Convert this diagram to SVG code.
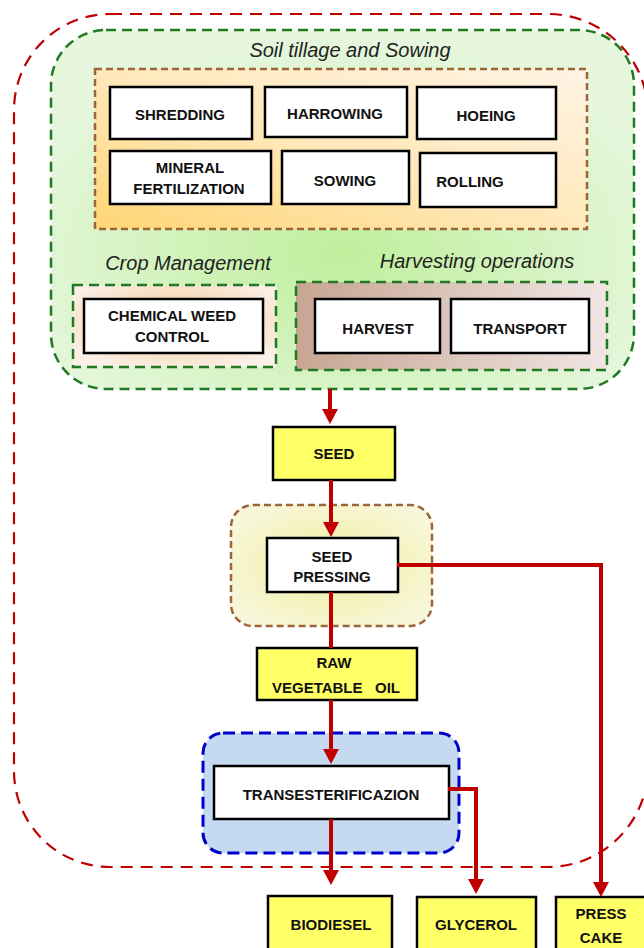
<svg xmlns="http://www.w3.org/2000/svg" width="644" height="948" viewBox="0 0 644 948">
<defs>
<style>
.box{fill:#ffffff;stroke:#000000;stroke-width:2.5}
.ybox{fill:#ffff66;stroke:#000000;stroke-width:2.5}
.t{font-family:"Liberation Sans",Arial,sans-serif;font-weight:bold;font-size:15px;fill:#111111;text-anchor:middle}
.lbl{font-family:"Liberation Sans",Arial,sans-serif;font-style:italic;font-size:20px;fill:#222222;text-anchor:middle}
.red{fill:none;stroke:#c00000;stroke-width:4}
.gdash{stroke:#217a21;stroke-width:2.5;stroke-dasharray:10 6}
.bdash{stroke:#9c6636;stroke-width:2.5;stroke-dasharray:7 4}
</style>
<radialGradient id="gGreen" cx="0.5" cy="0.62" r="0.6">
<stop offset="0" stop-color="#bfef9c"/>
<stop offset="1" stop-color="#e6f7de"/>
</radialGradient>
<linearGradient id="gOrange" x1="0" y1="1" x2="1" y2="0">
<stop offset="0" stop-color="#ffd575"/>
<stop offset="0.5" stop-color="#ffe8bb"/>
<stop offset="1" stop-color="#fff3e4"/>
</linearGradient>
<radialGradient id="gChem" cx="0.5" cy="0.45" r="0.6">
<stop offset="0" stop-color="#f3c58e"/>
<stop offset="1" stop-color="#fbefe6"/>
</radialGradient>
<linearGradient id="gHarv" x1="0" y1="0" x2="1" y2="0">
<stop offset="0" stop-color="#c7a592"/>
<stop offset="1" stop-color="#f0e6e4"/>
</linearGradient>
<radialGradient id="gPress" cx="0.5" cy="0.5" r="0.6">
<stop offset="0" stop-color="#efed9c"/>
<stop offset="1" stop-color="#f8f7dc"/>
</radialGradient>
<marker id="ah" markerUnits="userSpaceOnUse" viewBox="0 0 15 16" markerWidth="15" markerHeight="16" refX="5" refY="8" orient="auto">
<path d="M0,0 L15,8 L0,16 Z" fill="#c00000"/>
</marker>
</defs>

<g id="system-boundary">
<path d="M110,14 H548 A100,100 0 0 1 648,114 V767 A100,100 0 0 1 548,867 H110 A96,96 0 0 1 14,771 V110 A96,96 0 0 1 110,14 Z" fill="none" stroke="#c00000" stroke-width="2.2" stroke-dasharray="12 8"/>
</g>

<g id="agricultural-phase">
<rect x="51" y="30" width="583" height="359" rx="55" ry="55" fill="url(#gGreen)" class="gdash"/>
<text class="lbl" x="350" y="57">Soil tillage and Sowing</text>
<text class="lbl" x="188" y="270">Crop Management</text>
<text class="lbl" x="477" y="268">Harvesting operations</text>
</g>

<g id="soil-tillage">
<rect x="95" y="69" width="492" height="160" fill="url(#gOrange)" class="bdash"/>
</g>
<g id="shredding">
<rect class="box" x="110" y="87" width="142" height="52"/>
<text class="t" x="180" y="120">SHREDDING</text>
</g>
<g id="harrowing">
<rect class="box" x="265" y="87" width="142" height="50"/>
<text class="t" x="335" y="119">HARROWING</text>
</g>
<g id="hoeing">
<rect class="box" x="417" y="87" width="139" height="52"/>
<text class="t" x="486" y="121">HOEING</text>
</g>
<g id="mineral-fertilization">
<rect class="box" x="110" y="151" width="161" height="53"/>
<text class="t" x="190" y="173">MINERAL</text>
<text class="t" x="189" y="194">FERTILIZATION</text>
</g>
<g id="sowing">
<rect class="box" x="282" y="151" width="127" height="53"/>
<text class="t" x="345" y="186">SOWING</text>
</g>
<g id="rolling">
<rect class="box" x="420" y="153" width="136" height="54"/>
<text class="t" x="470" y="187">ROLLING</text>
</g>

<g id="crop-management">
<rect x="73" y="285" width="203" height="82" fill="url(#gChem)" class="gdash"/>
</g>
<g id="chemical-weed-control">
<rect class="box" x="84" y="299" width="179" height="54"/>
<text class="t" x="172" y="321">CHEMICAL WEED</text>
<text class="t" x="172" y="342">CONTROL</text>
</g>

<g id="harvesting-operations">
<rect x="296" y="282" width="311" height="88" fill="url(#gHarv)" class="gdash"/>
</g>
<g id="harvest">
<rect class="box" x="315" y="299" width="125" height="54"/>
<text class="t" x="378" y="334">HARVEST</text>
</g>
<g id="transport">
<rect class="box" x="451" y="299" width="138" height="54"/>
<text class="t" x="520" y="334">TRANSPORT</text>
</g>

<g id="seed">
<rect class="ybox" x="273" y="427" width="122" height="53"/>
<text class="t" x="334" y="459">SEED</text>
</g>

<g id="pressing-stage">
<rect x="231" y="505" width="201" height="121" rx="22" ry="22" fill="url(#gPress)" class="bdash"/>
</g>
<g id="seed-pressing">
<rect class="box" x="267" y="538" width="131" height="54"/>
<text class="t" x="332" y="562">SEED</text>
<text class="t" x="332" y="582">PRESSING</text>
</g>

<g id="raw-vegetable-oil">
<rect class="ybox" x="257" y="648" width="160" height="52"/>
<text class="t" x="334" y="668">RAW</text>
<text class="t" x="336" y="693" xml:space="preserve">VEGETABLE   OIL</text>
</g>

<g id="transesterification-stage">
<rect x="203" y="733" width="256" height="120" rx="20" ry="20" fill="#c5d9f1" stroke="#0000cc" stroke-width="3" stroke-dasharray="12 6"/>
</g>
<g id="transesterificazion">
<rect class="box" x="214" y="766" width="235" height="53"/>
<text class="t" x="331" y="800">TRANSESTERIFICAZION</text>
</g>

<g id="biodiesel">
<rect class="ybox" x="268" y="896" width="124" height="56"/>
<text class="t" x="331" y="930">BIODIESEL</text>
</g>
<g id="glycerol">
<rect class="ybox" x="417" y="897" width="119" height="55"/>
<text class="t" x="476" y="930">GLYCEROL</text>
</g>
<g id="press-cake">
<rect class="ybox" x="556" y="897" width="92" height="55"/>
<text class="t" x="601" y="919">PRESS</text>
<text class="t" x="601" y="943">CAKE</text>
</g>

<g id="connectors">
<path class="red" d="M330,389 V414" marker-end="url(#ah)"/>
<path class="red" d="M331,480 V527" marker-end="url(#ah)"/>
<path class="red" d="M331,592 V648"/>
<path class="red" d="M397,565 H601 V887" marker-end="url(#ah)"/>
<path class="red" d="M331,700 V754" marker-end="url(#ah)"/>
<path class="red" d="M331,819 V875" marker-end="url(#ah)"/>
<path class="red" d="M448,789 H476 V884" marker-end="url(#ah)"/>
</g>
</svg>
